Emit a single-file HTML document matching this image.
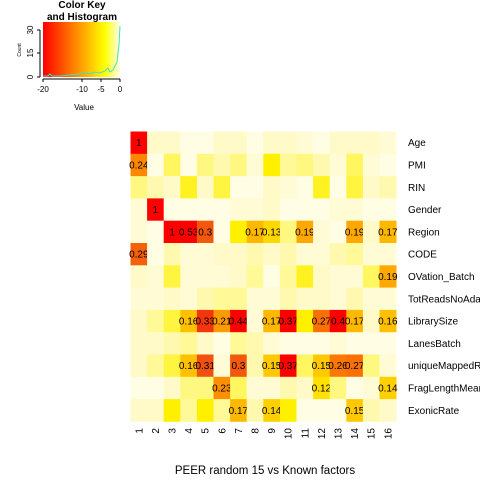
<!DOCTYPE html>
<html><head><meta charset="utf-8"><style>
body{margin:0;background:#fff;}
svg{display:block;font-family:"Liberation Sans",sans-serif;}
</style></head><body>
<svg id="chart" width="480" height="480" viewBox="0 0 480 480">
<defs>
<linearGradient id="keygrad" x1="0" x2="1" y1="0" y2="0">
<stop offset="0" stop-color="#ff0000"/><stop offset="0.45" stop-color="#ff9000"/><stop offset="0.8" stop-color="#ffff00"/><stop offset="1" stop-color="#ffffe8"/>
</linearGradient>
</defs>
<g>
<text x="82" y="8" text-anchor="middle" font-size="10" font-weight="bold">Color Key</text>
<text x="82" y="20" text-anchor="middle" font-size="10" font-weight="bold">and Histogram</text>
<rect x="43" y="22" width="77" height="55" fill="url(#keygrad)"/>
<polyline fill="none" stroke="#40e0d0" stroke-width="1" points="43,76 48,76 50,74 52,76 60,76 70,75 80,74 86,73 90,74 95,72 100,73 105,71 108,68 110,72 113,70 115,66 117,62 118,52 119,45 120,26"/>
<g stroke="#000" stroke-width="1" fill="none">
<line x1="43" y1="79" x2="120" y2="79"/>
<line x1="43" y1="79" x2="43" y2="82"/><line x1="82" y1="79" x2="82" y2="82"/><line x1="101" y1="79" x2="101" y2="82"/><line x1="120" y1="79" x2="120" y2="82"/>
<line x1="40" y1="30" x2="40" y2="77"/>
<line x1="37" y1="77" x2="40" y2="77"/><line x1="37" y1="53" x2="40" y2="53"/><line x1="37" y1="30" x2="40" y2="30"/>
</g>
<g font-size="8" text-anchor="middle">
<text x="43" y="92">-20</text><text x="82" y="92">-10</text><text x="101" y="92">-5</text><text x="120" y="92">0</text>
<text x="84" y="110">Value</text>
</g>
<g font-size="8" text-anchor="middle">
<text transform="translate(33,77) rotate(-90)">0</text>
<text transform="translate(33,53) rotate(-90)">15</text>
<text transform="translate(33,30) rotate(-90)">30</text>
<text transform="translate(21,50) rotate(-90)" font-size="5">Count</text>
</g>
</g>
<g id="cells"></g>
<g id="rowlabels"></g>
<g id="collabels"></g>
<text x="265" y="474" text-anchor="middle" font-size="11.5">PEER random 15 vs Known factors</text>
</svg>
<script>
const rowNames=["Age","PMI","RIN","Gender","Region","CODE","OVation_Batch","TotReadsNoAdapt","LibrarySize","LanesBatch","uniqueMappedReads","FragLengthMean","ExonicRate"];
const colNames=["1","2","3","4","5","6","7","8","9","10","11","12","13","14","15","16"];
const rowAge=[1,.03,.03,.01,.01,.03,.03,.01,.03,.03,.02,.01,.03,.03,.03,.02];
const rowPMI=[.24,.01,.07,.01,.06,.04,.06,.02,.10,.05,.06,.04,.02,.07,.02,.01];
const rowRIN=[.06,.04,.03,.09,.03,.08,.01,.01,.03,.02,.01,.09,.01,.08,.03,.04];
const rowGender=[.02,1,.01,.01,.01,.01,.02,.02,.03,.01,.01,.01,.02,.02,.01,.01];
const rowRegion=[.02,.01,1,.53,.3,.01,.10,.17,.13,.06,.19,.02,.01,.19,.03,.17];
const rowCODE=[.29,.01,.04,.02,.02,.03,.03,.04,.03,.04,.02,.02,.04,.05,.02,.02];
const rowOVation=[.03,.02,.08,.02,.02,.02,.03,.05,.01,.05,.09,.03,.02,.02,.07,.19];
const rowTotReads=[.02,.02,.03,.02,.04,.05,.05,.02,.02,.04,.03,.03,.02,.04,.02,.02];
const rowLibrary=[.03,.05,.08,.16,.33,.21,.44,.02,.17,.37,.10,.27,.40,.17,.03,.16];
const rowLanes=[.03,.03,.04,.05,.03,.01,.05,.04,.02,.01,.01,.01,.02,.01,.01,.01];
const rowUnique=[.03,.05,.08,.16,.31,.02,.3,.04,.15,.37,.07,.15,.26,.27,.06,.02];
const rowFrag=[.01,.01,.03,.06,.06,.23,.07,.02,.02,.04,.03,.12,.06,.01,.02,.14];
const rowExonic=[.03,.03,.10,.05,.10,.05,.17,.04,.14,.10,.01,.01,.01,.15,.04,.03];
const matrix=[rowAge,rowPMI,rowRIN,rowGender,rowRegion,rowCODE,rowOVation,rowTotReads,rowLibrary,rowLanes,rowUnique,rowFrag,rowExonic];

const X0=130.5,Y0=131.5,CW=16.6,RH=22.3;
const xPos=i=>X0+i*CW, yPos=j=>Y0+j*RH;
const stops=[[0,[255,255,240]],[.03,[255,250,200]],[.06,[255,248,128]],[.10,[255,240,0]],[.14,[255,208,0]],[.18,[255,176,0]],[.25,[255,128,0]],[.31,[240,80,16]],[.37,[255,0,0]],[1,[255,0,0]]];
function color(v){for(let k=1;k<stops.length;k++){if(v<=stops[k][0]){const a=stops[k-1],b=stops[k],t=(v-a[0])/(b[0]-a[0]);const c=a[1].map((x,i)=>Math.round(x+(b[1][i]-x)*t));return `rgb(${c})`;}}return "rgb(255,0,0)";}
const NS="http://www.w3.org/2000/svg";
const gc=document.getElementById('cells');
matrix.forEach((row,j)=>row.forEach((v,i)=>{
const r=document.createElementNS(NS,'rect');
r.setAttribute('x',xPos(i));r.setAttribute('y',yPos(j));r.setAttribute('width',CW+0.4);r.setAttribute('height',RH+0.4);r.setAttribute('fill',color(v));


gc.appendChild(r);
if(v>=0.12){const t=document.createElementNS(NS,'text');
t.setAttribute('x',xPos(i)+CW/2);t.setAttribute('y',yPos(j)+RH/2+3.5);t.setAttribute('text-anchor','middle');t.setAttribute('font-size','10');
t.textContent=(Math.round(v*100)/100).toString();


gc.appendChild(t);}
}));
const gr=document.getElementById('rowlabels');
rowNames.forEach((n,j)=>{const t=document.createElementNS(NS,'text');
t.setAttribute('x',408);t.setAttribute('y',yPos(j)+RH/2+3.5);t.setAttribute('font-size','10');t.textContent=n;


gr.appendChild(t);});
const gcl=document.getElementById('collabels');
colNames.forEach((n,i)=>{const t=document.createElementNS(NS,'text');
const x=xPos(i)+CW/2+3.5;t.setAttribute('transform',`translate(${x},428) rotate(-90)`);t.setAttribute('text-anchor','end');t.setAttribute('font-size','10');t.textContent=n;


gcl.appendChild(t);});
</script>
</body></html>
